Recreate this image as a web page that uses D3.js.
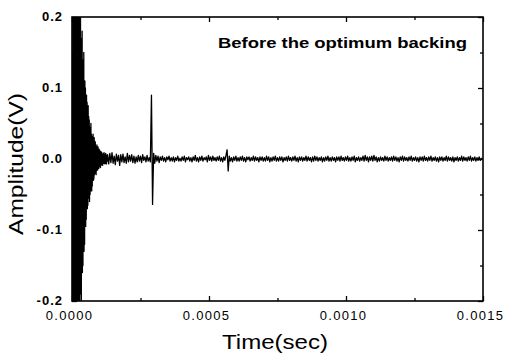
<!DOCTYPE html>
<html>
<head>
<meta charset="utf-8">
<script src="https://cdn.jsdelivr.net/npm/d3@7"></script>
<style>
  html, body { margin: 0; padding: 0; background: #fff; }
  svg { display: block; }
  text { font-family: "Liberation Sans", Arial, sans-serif; fill: #000; }
</style>
</head>
<body>
<svg id="chart" width="509" height="355"></svg>
<script>
// ---- data (amplitudes in mV) ----
const burstStart = 0;          // s
const burstStep = 1e-6;        // s per sample in the initial burst
const burstMilliVolts = [
  0, 150, -240, 270, -120, 260, -250, 60, -260, 240,
  -230, 270, -90, 250, -260, 210, -40, 240, -250, 230,
  -260, 120, -230, 250, -200, 260, -150, 220, -240, 200,
  -90, 210, -190, 150, -210, 170, -120, 180, -160, 60,
  -150, 140, -100, 150, -130, 90, -120, 110, -60, 100,
  -95, 70, -85, 90, -50, 80, -70, 40, -65, 75,
  -55, 60, -30, 55, -60, 45, -50, 25, -45, 50,
  -40, 35, -45, 20, -38, 32, -25, 35, -30, 18,
  -28, 30, -22, 25, -12, 24, -20, 15, -22, 18,
  -14, 20, -16, 10, -15, 17, -12, 9, -13, 14,
  -10, 12, -8, 11, -12, 6, -9, 10, -7, 9,
  -8, 6, -9, 7, -5, 8, -6, 9, -5, 6,
  -7, 5, -4, 8, -6, 4, -7, 5, -3, 6
];
const tailStart = 130e-6;      // s
const tailStep = 4e-6;         // s per sample after the burst
const tailMilliVolts = [
  6,-7,8,-5,9,-6,4,-8,7,-3,5,-9,6,-4,7,-5,3,-6,8,-4,
  5,-3,6,-5,4,-6,3,-4,5,-3,4,-5,6,-2,3,-4,5,-3,2,-4,
  90,-64,8,-6,5,-3,4,-5,3,-2,4,-3,2,-4,3,-1,4,-3,2,-3,
  3,-4,2,-2,4,-3,1,-3,3,-2,4,-4,2,-1,3,-3,2,-4,3,-2,
  5,-3,2,-4,3,-2,4,-3,2,-1,3,-4,5,-2,3,-3,4,-2,2,-3,
  3,-2,4,-3,2,-4,3,-2,5,13,-17,4,-3,2,-4,3,-2,4,-3,2,
  -3,3,-2,4,-3,2,-4,3,-1,3,-3,2,-2,4,-3,3,-2,2,-4,3,
  -2,3,-3,2,-3,4,-2,3,-4,2,-3,3,-2,4,-3,2,-3,3,-2,3,
  -4,2,-2,3,-3,4,-2,2,-3,3,-2,4,-3,2,-4,3,-2,3,-3,2,
  -2,4,-3,3,-2,2,-4,3,-3,4,-2,3,-3,2,-2,3,-4,2,-3,3,
  -2,4,-3,2,-3,3,-2,2,-4,3,-2,3,-3,4,-2,2,-3,3,-2,4,
  -3,2,-3,3,-2,4,-4,2,-2,3,-3,2,-2,4,-3,5,-2,3,-4,3,
  -2,4,-3,5,-2,3,-4,2,-3,3,-2,2,-3,4,-2,3,-3,2,-2,3,
  -3,4,-2,3,-3,2,-4,3,-2,4,-3,3,-2,2,-3,3,-2,4,-3,2,
  -2,3,-3,2,-4,3,-2,3,-3,4,-2,2,-3,3,-2,4,-3,2,-2,3,
  -3,2,-4,3,-2,3,-3,2,-2,4,-3,3,-2,2,-3,3,-4,2,-2,3,
  -3,2,-2,4,-3,3,-2,2,-3,3,-2,4,-3,2,-2,3,-3,2,-2,3,
  -2,1,-1
];
const xTickValues = [0, 0.0005, 0.0010, 0.0015];
const xTickLabels = ["0.0000", "0.0005", "0.0010", "0.0015"];
const xMinorTicks = [0.00025, 0.00075, 0.00125];
const yTickValues = [-0.2, -0.1, 0.0, 0.1, 0.2];
const yTickLabels = ["-0.2", "-0.1", "0.0", "0.1", "0.2"];
const yMinorTicks = [-0.15, -0.05, 0.05, 0.15];
const titleText = "Before the optimum backing";
const xAxisTitle = "Time(sec)";
const yAxisTitle = "Amplitude(V)";

// ---- build series ----
const points = [];
burstMilliVolts.forEach((v, i) => points.push({ t: burstStart + i * burstStep, v: v / 1000 }));
tailMilliVolts.forEach((v, i) => points.push({ t: tailStart + i * tailStep, v: v / 1000 }));

// ---- layout ----
const L = 72, R = 483, T = 17, B = 301;
const svg = d3.select("#chart");
const x = d3.scaleLinear().domain([0, 0.0015]).range([L, R]);
const y = d3.scaleLinear().domain([-0.2, 0.2]).range([B, T]);

svg.append("defs").append("clipPath").attr("id", "plotclip")
  .append("rect").attr("x", L).attr("y", T).attr("width", R - L).attr("height", B - T);

// trace
svg.append("path")
  .datum(points)
  .attr("clip-path", "url(#plotclip)")
  .attr("fill", "none")
  .attr("stroke", "#000")
  .attr("stroke-width", 1.3)
  .attr("stroke-linejoin", "round")
  .attr("d", d3.line().x(d => x(d.t)).y(d => y(d.v)));

// axes (inward ticks)
function styleAxis(g) {
  g.select(".domain").remove();
  g.selectAll(".tick line").attr("stroke", "#000").attr("stroke-width", 1.3);
}
const majorLen = 5, minorLen = 3;

// bottom
const gB = svg.append("g").attr("transform", `translate(0,${B})`)
  .call(d3.axisBottom(x).tickValues(xTickValues).tickSize(-majorLen)
    .tickFormat((d, i) => xTickLabels[i]));
styleAxis(gB);
gB.selectAll(".tick text")
  .attr("y", 19).attr("dy", null)
  .style("font-size", "13px").style("letter-spacing", "1.3px")
  .attr("dx", -3);
svg.append("g").attr("transform", `translate(0,${B})`)
  .call(d3.axisBottom(x).tickValues(xMinorTicks).tickSize(-minorLen).tickFormat(""))
  .call(styleAxis);

// top
svg.append("g").attr("transform", `translate(0,${T})`)
  .call(d3.axisTop(x).tickValues(xTickValues).tickSize(-majorLen).tickFormat(""))
  .call(styleAxis);
svg.append("g").attr("transform", `translate(0,${T})`)
  .call(d3.axisTop(x).tickValues(xMinorTicks).tickSize(-minorLen).tickFormat(""))
  .call(styleAxis);

// left
const gL = svg.append("g").attr("transform", `translate(${L},0)`)
  .call(d3.axisLeft(y).tickValues(yTickValues).tickSize(-majorLen)
    .tickFormat((d, i) => yTickLabels[i]));
styleAxis(gL);
gL.selectAll(".tick text")
  .attr("x", -9).attr("dy", "0.3em")
  .style("font-size", "13px").style("font-weight", "bold").style("letter-spacing", "1px");
svg.append("g").attr("transform", `translate(${L},0)`)
  .call(d3.axisLeft(y).tickValues(yMinorTicks).tickSize(-minorLen).tickFormat(""))
  .call(styleAxis);

// right
svg.append("g").attr("transform", `translate(${R},0)`)
  .call(d3.axisRight(y).tickValues(yTickValues).tickSize(-majorLen).tickFormat(""))
  .call(styleAxis);
svg.append("g").attr("transform", `translate(${R},0)`)
  .call(d3.axisRight(y).tickValues(yMinorTicks).tickSize(-minorLen).tickFormat(""))
  .call(styleAxis);

// frame
svg.append("rect")
  .attr("x", L).attr("y", T).attr("width", R - L).attr("height", B - T)
  .attr("fill", "none").attr("stroke", "#000").attr("stroke-width", 1.6);

// title inside plot
svg.append("text")
  .attr("x", 218).attr("y", 48)
  .attr("textLength", 249).attr("lengthAdjust", "spacingAndGlyphs")
  .style("font-size", "14px").style("font-weight", "bold")
  .text(titleText);

// axis titles
svg.append("text")
  .attr("x", 222).attr("y", 349)
  .attr("textLength", 106).attr("lengthAdjust", "spacingAndGlyphs")
  .style("font-size", "20px")
  .text(xAxisTitle);

svg.append("text")
  .attr("transform", "translate(23,235) rotate(-90)")
  .attr("x", 0).attr("y", 0)
  .attr("textLength", 142).attr("lengthAdjust", "spacingAndGlyphs")
  .style("font-size", "21px")
  .text(yAxisTitle);
</script>
</body>
</html>
